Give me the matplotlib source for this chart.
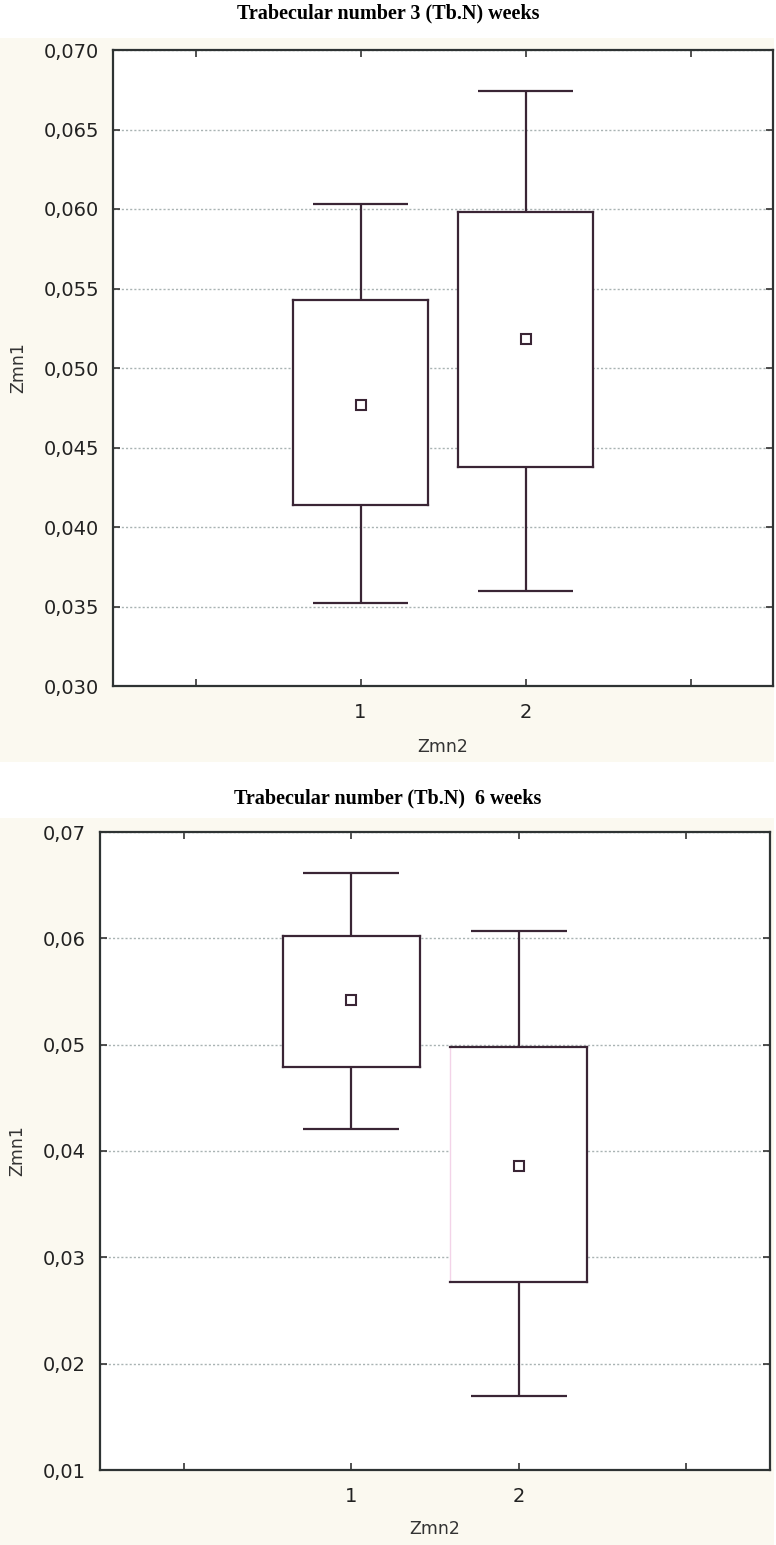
import matplotlib
matplotlib.use("Agg")
import matplotlib.pyplot as plt
from matplotlib.patches import Rectangle
from matplotlib.ticker import FixedLocator, FuncFormatter

# ---------------- data ----------------
groups = [1, 2]
group_labels = ["1", "2"]

# Panel 1: Trabecular number 3 weeks
p1_title = "Trabecular number 3 (Tb.N) weeks"
p1_whisker_low = [0.0352, 0.0360]
p1_box_low = [0.0414, 0.0438]
p1_mean = [0.0477, 0.0518]
p1_box_high = [0.0543, 0.0598]
p1_whisker_high = [0.0603, 0.0674]
p1_yticks = [0.030, 0.035, 0.040, 0.045, 0.050, 0.055, 0.060, 0.065, 0.070]
p1_decimals = 3

# Panel 2: Trabecular number 6 weeks
p2_title = "Trabecular number (Tb.N)  6 weeks"
p2_whisker_low = [0.0421, 0.0170]
p2_box_low = [0.0479, 0.0277]
p2_mean = [0.0542, 0.0386]
p2_box_high = [0.0602, 0.0498]
p2_whisker_high = [0.0661, 0.0607]
p2_yticks = [0.01, 0.02, 0.03, 0.04, 0.05, 0.06, 0.07]
p2_decimals = 2

y_label = "Zmn1"
x_label = "Zmn2"

# ---------------- style ----------------
W, H = 776, 1545
LINE = "#3a2535"
CREAM = "#fbf9f0"
TXT = "#222222"
GRID = "#a9b3b3"

fig = plt.figure(figsize=(W / 100, H / 100), dpi=100)
fig.patch.set_facecolor("white")


def fy(px):
    return 1 - px / H


# cream panel backgrounds (figure coords)
fig.patches.append(Rectangle((0, fy(762)), 774 / W, (762 - 38) / H,
                             transform=fig.transFigure, facecolor=CREAM,
                             edgecolor="none", zorder=-10))
fig.patches.append(Rectangle((0, 0), 774 / W, (1545 - 818) / H,
                             transform=fig.transFigure, facecolor=CREAM,
                             edgecolor="none", zorder=-10))


def draw_panel(ax, wl, bl, mn, bh, wh, yticks, dec, faint_left=None,
               xlabel_pad=18):
    ax.set_facecolor("white")
    half_box = 0.41
    half_cap = 0.287
    for i, g in enumerate(groups):
        # whiskers
        ax.plot([g, g], [bh[i], wh[i]], color=LINE, lw=1.6, zorder=3,
                solid_capstyle="butt")
        ax.plot([g, g], [wl[i], bl[i]], color=LINE, lw=1.6, zorder=3,
                solid_capstyle="butt")
        ax.plot([g - half_cap, g + half_cap], [wh[i], wh[i]], color=LINE,
                lw=1.6, zorder=3, solid_capstyle="butt")
        ax.plot([g - half_cap, g + half_cap], [wl[i], wl[i]], color=LINE,
                lw=1.6, zorder=3, solid_capstyle="butt")
        # box
        ax.add_patch(Rectangle((g - half_box, bl[i]), 2 * half_box,
                               bh[i] - bl[i], facecolor="white",
                               edgecolor="none", zorder=2))
        left_col = LINE
        left_lw = 1.6
        if faint_left is not None and faint_left[i]:
            left_col = "#f3d3e8"
            left_lw = 1.0
        ax.plot([g - half_box, g - half_box], [bl[i], bh[i]], color=left_col,
                lw=left_lw, zorder=3)
        ax.plot([g + half_box, g + half_box], [bl[i], bh[i]], color=LINE,
                lw=1.6, zorder=3)
        ax.plot([g - half_box, g + half_box], [bh[i], bh[i]], color=LINE,
                lw=1.6, zorder=3)
        ax.plot([g - half_box, g + half_box], [bl[i], bl[i]], color=LINE,
                lw=1.6, zorder=3)
        # mean marker
        ax.plot([g], [mn[i]], marker="s", ms=7, mfc="white", mec=LINE,
                mew=1.5, zorder=4, linestyle="none")

    ax.set_xlim(-0.5, 3.5)
    ax.set_ylim(yticks[0], yticks[-1])
    ax.xaxis.set_major_locator(FixedLocator([0, 1, 2, 3]))
    ax.set_xticklabels(["", group_labels[0], group_labels[1], ""])
    ax.yaxis.set_major_locator(FixedLocator(yticks))
    ax.yaxis.set_major_formatter(
        FuncFormatter(lambda v, p: f"{v:.{dec}f}".replace(".", ",")))
    ax.tick_params(axis="both", direction="in", length=5, width=1.2,
                   color="#333333", labelsize=14, labelcolor=TXT,
                   top=True, right=True)
    ax.tick_params(axis="y", pad=10)
    ax.tick_params(axis="x", pad=12)
    for s in ax.spines.values():
        s.set_linewidth(1.6)
        s.set_color("#2e3333")
    ax.yaxis.grid(True, linestyle=(0, (1.5, 1.5)), color=GRID, lw=1.0,
                  zorder=0)
    ax.set_axisbelow(True)
    ax.set_ylabel(y_label, fontsize=12.5, color="#333333", labelpad=12)
    ax.set_xlabel(x_label, fontsize=12.5, color="#333333", labelpad=xlabel_pad)


# axes positions from pixel layout
ax1 = fig.add_axes([113 / W, fy(686), 660 / W, (686 - 50) / H])
ax2 = fig.add_axes([100 / W, fy(1470), 670 / W, (1470 - 832) / H])

draw_panel(ax1, p1_whisker_low, p1_box_low, p1_mean, p1_box_high,
           p1_whisker_high, p1_yticks, p1_decimals, xlabel_pad=12)
draw_panel(ax2, p2_whisker_low, p2_box_low, p2_mean, p2_box_high,
           p2_whisker_high, p2_yticks, p2_decimals,
           faint_left=[False, True], xlabel_pad=10)

fig.text(388 / W, fy(13), p1_title, ha="center", va="center", fontsize=14.5,
         fontweight="bold", family="Liberation Serif", color="black")
fig.text(388 / W, fy(798), p2_title, ha="center", va="center", fontsize=14.5,
         fontweight="bold", family="Liberation Serif", color="black")

fig.savefig("out.png", dpi=100, facecolor=fig.get_facecolor())
